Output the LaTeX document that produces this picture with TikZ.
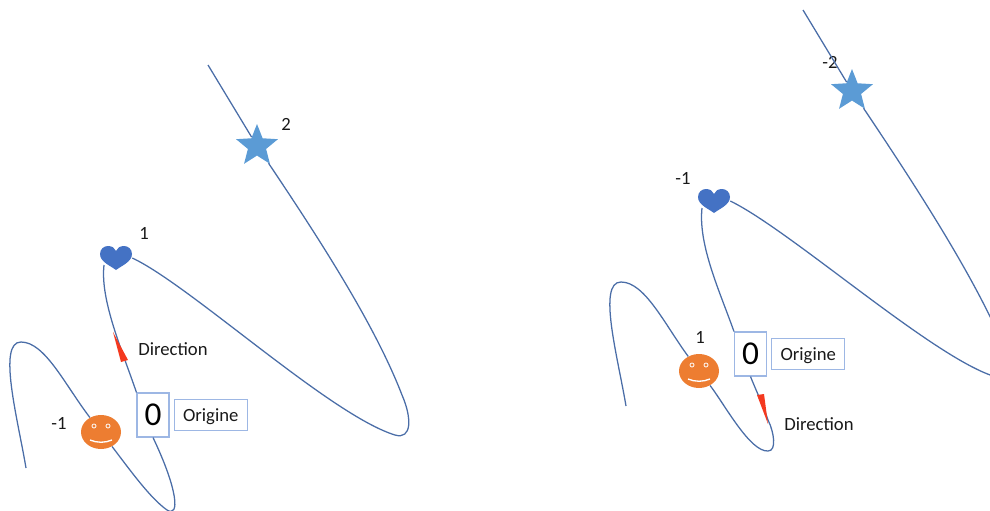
\documentclass[tikz,border=0pt]{standalone}
\usepackage{fontspec}
\setmainfont{Carlito}
\usetikzlibrary{positioning,shapes.geometric}
\definecolor{curveblue}{HTML}{4A6DA7}
\definecolor{boxblue}{HTML}{9DB7E4}
\definecolor{heartblue}{HTML}{4472C4}
\definecolor{starblue}{HTML}{5B9BD5}
\definecolor{smileorange}{HTML}{ED7D31}
\definecolor{wedgered}{HTML}{F4391F}

\begin{document}
\begin{tikzpicture}[x=0.75pt,y=-0.75pt]
	\tikzstyle{curve}=[curveblue, line width=0.95pt]
	\tikzstyle{txt}=[font=\fontsize{14}{16}\selectfont, inner sep=0pt, text=black!90]
	\tikzstyle{zerobox}=[rectangle, draw=boxblue, line width=0.8pt, fill=white, minimum width=24pt, minimum height=33pt, inner sep=0pt, font=\fontsize{25}{28}\selectfont]
	\tikzstyle{origbox}=[rectangle, draw=boxblue, line width=0.8pt, minimum width=55pt, minimum height=23pt, inner sep=0pt, text height=9pt, text depth=0pt, font=\fontsize{14}{16}\selectfont, text=black!90]
	\tikzstyle{starmark}=[star, star points=5, star point ratio=2.3, fill=starblue, minimum size=33pt, inner sep=0pt]
	\tikzstyle{heartmark}=[rectangle, minimum width=24pt, minimum height=18pt, inner sep=0pt, path picture={
		\fill[heartblue] (0,12) .. controls (-5,8) and (-16,4) .. (-16,-4)
			.. controls (-16,-9) and (-12,-12) .. (-8,-12)
			.. controls (-4,-12) and (-1,-10) .. (0,-7)
			.. controls (1,-10) and (4,-12) .. (8,-12)
			.. controls (12,-12) and (16,-9) .. (16,-4)
			.. controls (16,4) and (5,8) .. (0,12) -- cycle;}]
	\tikzstyle{smilemark}=[ellipse, fill=smileorange, minimum width=30pt, minimum height=25.5pt, inner sep=0pt, path picture={
		\draw[white!85!smileorange, line width=0.7pt] (-7,-6) circle (2);
		\draw[white!85!smileorange, line width=0.7pt] (7,-6) circle (2);
		\draw[white, line width=1pt] (-11,8) .. controls (-4,11) and (4,11) .. (11,8);}]
	\clip (0,0) rectangle (990,511);

	% left picture
	\node[heartmark] (heart1) at (116,258) {};
	\node[starmark] (star1) at (257,146) {};
	\node[smilemark] (smile1) at (101,432) {};
	\node[zerobox] (zero1) at (153,415) {0};
	\node[origbox] (orig1) [right=3pt of zero1] {Origine};
	\node[txt] (num1a) at (144,233) {1};
	\node[txt] (num1b) at (286,124) {2};
	\node[txt] (num1c) at (59,423) {-1};
	\node[txt] (dir1) at (173,349) {Direction};
	\coordinate (start1) at (26,468);
	\coordinate (peak1) at (21,342);
	\coordinate (end1) at (208,65);

	\draw[curve] (start1) .. controls (18,420) and (-3,342) .. (peak1)
		.. controls (45,342) and (65,385) .. (smile1);
	\draw[curve] (smile1) .. controls (130,470) and (150,498) .. (167,510)
		.. controls (180,518) and (178,490) .. (zero1.south);
	\draw[curve] (zero1.north west) .. controls (122,350) and (100,300) .. ([shift={(-12,7)}]heart1.center);
	\draw[curve] (heart1.east) .. controls (190,285) and (330,415) .. (395,435)
		.. controls (412,440) and (412,418) .. (402,395)
		.. controls (375,325) and (320,240) .. (star1);
	\draw[curve] (star1) -- (end1);
	\fill[wedgered] (113,332) -- (128,360) -- (121,362) -- cycle;

	% right picture
	\node[heartmark] (heart2) at (714,201) {};
	\node[starmark] (star2) at (852,91) {};
	\node[smilemark] (smile2) at (699,371) {};
	\node[zerobox] (zero2) at (750.5,354) {0};
	\node[origbox] (orig2) [right=3pt of zero2] {Origine};
	\node[txt] (num2a) at (683,178) {-1};
	\node[txt] (num2b) at (830,62) {-2};
	\node[txt] (num2c) at (700,337) {1};
	\node[txt] (dir2) at (819,424) {Direction};
	\coordinate (start2) at (626,406);
	\coordinate (peak2) at (621,282);
	\coordinate (end2) at (803,10);

	\draw[curve] (start2) .. controls (618,358) and (597,282) .. (peak2)
		.. controls (645,282) and (665,325) .. (smile2);
	\draw[curve] (smile2) .. controls (725,405) and (750,452) .. (768,451)
		.. controls (777,451) and (774,432) .. (768,420)
		.. controls (763,405) and (755,388) .. (zero2.south);
	\draw[curve] (zero2.north west) .. controls (720,292) and (698,245) .. ([shift={(-12,7)}]heart2.center);
	\draw[curve] (heart2.east) .. controls (790,230) and (930,355) .. (993,376)
		.. controls (1010,381) and (1010,358) .. (1000,338)
		.. controls (970,270) and (915,185) .. (star2);
	\draw[curve] (star2) -- (end2);
	\fill[wedgered] (768,424) -- (757,395) -- (764,394) -- cycle;
\end{tikzpicture}
\end{document}
